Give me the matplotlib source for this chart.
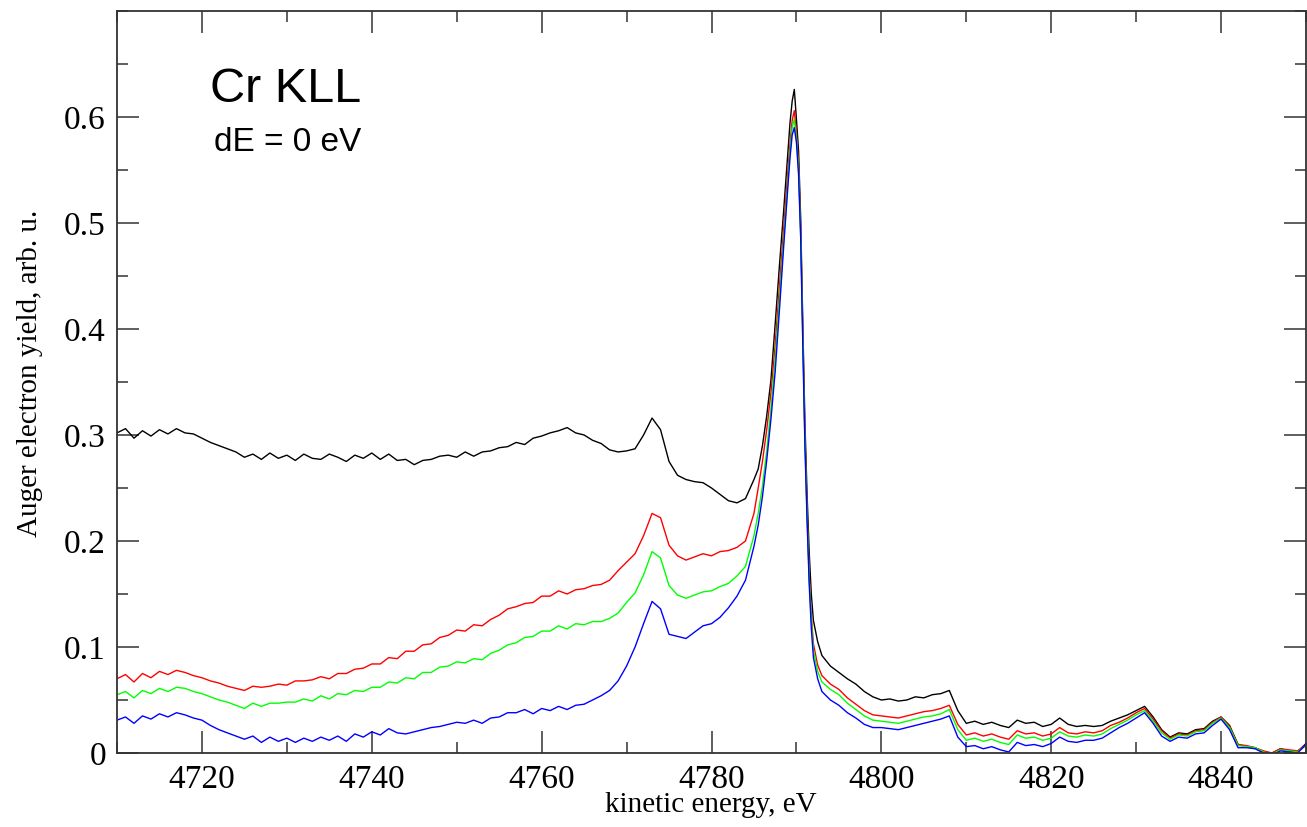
import numpy as np
import matplotlib
matplotlib.use("Agg")
import matplotlib.pyplot as plt
from matplotlib.ticker import FixedLocator, MultipleLocator, FuncFormatter

# ---------- Data (kinetic energy in eV) ----------

energy_low = np.arange(4710, 4785)          # 1 eV steps, 75 points
energy_peak = [4785, 4785.5, 4786, 4786.5, 4787, 4787.5, 4788, 4788.5,
               4789, 4789.25, 4789.5, 4789.75, 4790, 4790.25, 4790.5, 4790.75,
               4791, 4791.25, 4791.5, 4791.75, 4792, 4792.5, 4793]
energy_high = np.arange(4794, 4851)         # 1 eV steps, 57 points
energy = np.concatenate([energy_low, energy_peak, energy_high])

black_low = [0.302, 0.306, 0.297, 0.304, 0.299, 0.305, 0.301, 0.306, 0.302, 0.301,
             0.297, 0.293, 0.290, 0.287, 0.284, 0.279, 0.282, 0.277, 0.283, 0.278,
             0.281, 0.276, 0.282, 0.278, 0.277, 0.282, 0.279, 0.275, 0.281, 0.278,
             0.283, 0.277, 0.282, 0.276, 0.277, 0.272, 0.276, 0.277, 0.280, 0.281,
             0.279, 0.284, 0.280, 0.284, 0.285, 0.288, 0.289, 0.293, 0.291, 0.297,
             0.299, 0.302, 0.304, 0.307, 0.302, 0.300, 0.295, 0.292, 0.286, 0.284,
             0.285, 0.287, 0.300, 0.316, 0.305, 0.275, 0.262, 0.258, 0.256, 0.255,
             0.250, 0.244, 0.238, 0.236, 0.240]
black_peak = [0.258, 0.268, 0.290, 0.318, 0.352, 0.405, 0.460, 0.512,
              0.568, 0.595, 0.615, 0.626, 0.598, 0.568, 0.505, 0.405,
              0.312, 0.245, 0.190, 0.150, 0.125, 0.105, 0.092]
black_high = [0.082, 0.076, 0.070, 0.065, 0.058, 0.053, 0.050, 0.051, 0.049, 0.050,
              0.053, 0.052, 0.055, 0.056, 0.059, 0.040, 0.028, 0.030, 0.027, 0.029,
              0.026, 0.024, 0.031, 0.028, 0.029, 0.025, 0.027, 0.033, 0.027, 0.025,
              0.026, 0.025, 0.026, 0.030, 0.033, 0.036, 0.040, 0.044, 0.034, 0.022,
              0.015, 0.019, 0.018, 0.022, 0.023, 0.030, 0.034, 0.026, 0.008, 0.006,
              0.005, 0.001, 0.000, 0.004, 0.002, 0.001, 0.009]

red_low = [0.070, 0.074, 0.067, 0.075, 0.071, 0.077, 0.074, 0.078, 0.076, 0.073,
           0.071, 0.068, 0.066, 0.063, 0.061, 0.059, 0.063, 0.062, 0.063, 0.065,
           0.064, 0.068, 0.068, 0.069, 0.072, 0.070, 0.075, 0.075, 0.079, 0.080,
           0.084, 0.084, 0.090, 0.089, 0.096, 0.096, 0.102, 0.103, 0.109, 0.111,
           0.116, 0.115, 0.121, 0.120, 0.126, 0.130, 0.136, 0.138, 0.141, 0.142,
           0.148, 0.148, 0.153, 0.150, 0.154, 0.155, 0.158, 0.159, 0.163, 0.172,
           0.180, 0.188, 0.205, 0.226, 0.222, 0.196, 0.186, 0.182, 0.185, 0.188,
           0.186, 0.190, 0.191, 0.194, 0.200]
red_peak = [0.226, 0.250, 0.275, 0.305, 0.340, 0.385, 0.440, 0.495,
            0.550, 0.575, 0.597, 0.606, 0.585, 0.555, 0.495, 0.395,
            0.300, 0.230, 0.170, 0.130, 0.103, 0.083, 0.073]
red_high = [0.065, 0.060, 0.052, 0.046, 0.040, 0.036, 0.035, 0.034, 0.033, 0.035,
            0.037, 0.039, 0.040, 0.042, 0.045, 0.027, 0.017, 0.019, 0.016, 0.018,
            0.015, 0.013, 0.021, 0.018, 0.019, 0.016, 0.018, 0.024, 0.019, 0.018,
            0.020, 0.019, 0.021, 0.026, 0.029, 0.033, 0.038, 0.042, 0.032, 0.021,
            0.014, 0.018, 0.017, 0.021, 0.022, 0.029, 0.034, 0.025, 0.008, 0.007,
            0.005, 0.002, 0.000, 0.004, 0.003, 0.002, 0.008]

green_low = [0.055, 0.058, 0.052, 0.059, 0.056, 0.061, 0.058, 0.062, 0.061, 0.058,
             0.056, 0.053, 0.050, 0.048, 0.045, 0.042, 0.047, 0.044, 0.047, 0.047,
             0.048, 0.048, 0.051, 0.049, 0.054, 0.051, 0.056, 0.055, 0.059, 0.058,
             0.062, 0.062, 0.067, 0.066, 0.071, 0.070, 0.076, 0.076, 0.081, 0.082,
             0.086, 0.085, 0.089, 0.088, 0.094, 0.097, 0.102, 0.104, 0.109, 0.110,
             0.115, 0.115, 0.120, 0.117, 0.122, 0.121, 0.124, 0.124, 0.127, 0.132,
             0.142, 0.151, 0.168, 0.190, 0.184, 0.158, 0.149, 0.146, 0.149, 0.152,
             0.153, 0.157, 0.160, 0.167, 0.176]
green_peak = [0.205, 0.226, 0.252, 0.285, 0.325, 0.372, 0.428, 0.485,
              0.541, 0.568, 0.590, 0.598, 0.580, 0.550, 0.490, 0.390,
              0.295, 0.225, 0.165, 0.125, 0.097, 0.077, 0.067]
green_high = [0.060, 0.055, 0.047, 0.041, 0.035, 0.031, 0.030, 0.029, 0.028, 0.030,
              0.032, 0.034, 0.035, 0.037, 0.041, 0.022, 0.012, 0.014, 0.011, 0.013,
              0.010, 0.008, 0.017, 0.014, 0.015, 0.012, 0.014, 0.020, 0.016, 0.015,
              0.017, 0.016, 0.018, 0.023, 0.027, 0.031, 0.036, 0.040, 0.030, 0.019,
              0.013, 0.017, 0.016, 0.020, 0.021, 0.028, 0.033, 0.024, 0.007, 0.006,
              0.005, 0.001, -0.001, 0.003, 0.002, 0.001, 0.007]

blue_low = [0.031, 0.034, 0.028, 0.035, 0.032, 0.037, 0.034, 0.038, 0.036, 0.033,
            0.031, 0.026, 0.022, 0.019, 0.016, 0.013, 0.016, 0.010, 0.015, 0.011,
            0.014, 0.010, 0.014, 0.011, 0.015, 0.012, 0.016, 0.011, 0.018, 0.015,
            0.020, 0.017, 0.023, 0.019, 0.018, 0.020, 0.022, 0.024, 0.025, 0.027,
            0.029, 0.028, 0.031, 0.028, 0.033, 0.034, 0.038, 0.038, 0.041, 0.037,
            0.042, 0.040, 0.044, 0.041, 0.045, 0.046, 0.050, 0.054, 0.059, 0.068,
            0.082, 0.100, 0.122, 0.143, 0.136, 0.112, 0.110, 0.108, 0.114, 0.120,
            0.122, 0.128, 0.137, 0.148, 0.163]
blue_peak = [0.195, 0.215, 0.242, 0.276, 0.315, 0.360, 0.418, 0.478,
             0.535, 0.562, 0.583, 0.590, 0.576, 0.546, 0.486, 0.385,
             0.290, 0.220, 0.160, 0.118, 0.090, 0.070, 0.058]
blue_high = [0.050, 0.045, 0.038, 0.033, 0.027, 0.024, 0.024, 0.023, 0.022, 0.024,
             0.026, 0.028, 0.030, 0.032, 0.035, 0.015, 0.006, 0.007, 0.004, 0.006,
             0.003, 0.001, 0.010, 0.007, 0.008, 0.006, 0.009, 0.015, 0.011, 0.010,
             0.012, 0.012, 0.014, 0.019, 0.024, 0.028, 0.033, 0.038, 0.028, 0.016,
             0.011, 0.015, 0.014, 0.018, 0.019, 0.026, 0.032, 0.022, 0.005, 0.005,
             0.004, 0.000, -0.002, 0.002, 0.001, 0.000, 0.008]

curves = {
    "black": black_low + black_peak + black_high,
    "#ff0000": red_low + red_peak + red_high,
    "#00ff00": green_low + green_peak + green_high,
    "#0000ff": blue_low + blue_peak + blue_high,
}

x_major = [4720, 4740, 4760, 4780, 4800, 4820, 4840]
y_major = [0, 0.1, 0.2, 0.3, 0.4, 0.5, 0.6]

# ---------- Plot ----------

fig = plt.figure(figsize=(13.07, 8.27), dpi=100)
ax = fig.add_axes([117 / 1307, 1 - 753 / 827, 1189 / 1307, 742 / 827])

for color, vals in curves.items():
    assert len(vals) == len(energy)
    ax.plot(energy, vals, color=color, lw=1.0)

ax.set_xlim(4710, 4850)
ax.set_ylim(0, 0.7)

ax.xaxis.set_major_locator(FixedLocator(x_major))
ax.xaxis.set_minor_locator(MultipleLocator(10))
ax.yaxis.set_major_locator(FixedLocator(y_major))
ax.yaxis.set_minor_locator(MultipleLocator(0.05))
ax.yaxis.set_major_formatter(FuncFormatter(lambda v, p: f"{v:g}"))

ax.tick_params(which="both", direction="in", top=True, right=True,
               width=1.1, color="#333333")
ax.tick_params(which="major", length=16, labelsize=24, pad=8)
ax.tick_params(which="minor", length=8)
for lab in ax.get_xticklabels() + ax.get_yticklabels():
    lab.set_family("Liberation Serif")
for sp in ax.spines.values():
    sp.set_linewidth(1.3)
    sp.set_color("#333333")

fig.text(711 / 1307, 1 - 805 / 827, "kinetic energy, eV", family="Liberation Serif",
         fontsize=21, ha="center", va="center")
fig.text(30 / 1307, 1 - 373 / 827, "Auger electron yield, arb. u.", family="Liberation Serif",
         fontsize=21, ha="center", va="center", rotation=90)

ax.text(210 / 1307, 1 - 102 / 827, "Cr KLL", transform=fig.transFigure,
        family="Liberation Sans", fontsize=35, ha="left", va="baseline")
ax.text(214 / 1307, 1 - 151 / 827, "dE = 0 eV", transform=fig.transFigure,
        family="Liberation Sans", fontsize=24, ha="left", va="baseline")

fig.savefig("out.png", dpi=100)
